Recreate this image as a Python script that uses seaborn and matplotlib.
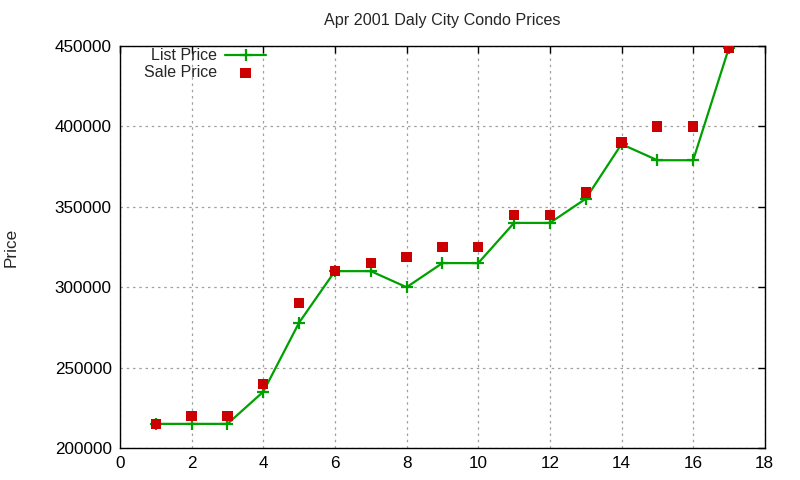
import numpy as np
import pandas as pd
import matplotlib
matplotlib.use("Agg")
import matplotlib.pyplot as plt
import seaborn as sns

# values
units = [1, 2, 3, 4, 5, 6, 7, 8, 9, 10, 11, 12, 13, 14, 15, 16, 17]
list_price = [215000, 215000, 215000, 235000, 278000, 310000, 310000, 300000,
              315000, 315000, 340000, 340000, 355000, 389000, 379000, 379000, 449000]
sale_price = [215000, 220000, 220000, 240000, 290000, 310000, 315000, 319000,
              325000, 325000, 345000, 345000, 359000, 390000, 400000, 400000, 449000]

xticks = [0, 2, 4, 6, 8, 10, 12, 14, 16, 18]
yticks = [200000, 250000, 300000, 350000, 400000, 450000]

df = pd.DataFrame({"n": units, "list": list_price, "sale": sale_price})

sns.set_style("white")
plt.rcParams['font.family'] = ['Liberation Sans', 'DejaVu Sans']

fig = plt.figure(figsize=(8, 4.8), dpi=100)
ax = fig.add_axes([0.15, 0.0667, 0.806, 0.8373])

green = "#00a000"
red = "#cc0000"

sns.lineplot(data=df, x="n", y="list", ax=ax, color=green, lw=1.6,
             marker="+", markersize=8, markeredgewidth=1.6,
             markeredgecolor=green, label="List Price", zorder=3)
sns.scatterplot(data=df, x="n", y="sale", ax=ax, color=red, marker="s",
                s=55, edgecolor="none", label="Sale Price", zorder=4)

ax.set_xlim(0, 18)
ax.set_ylim(200000, 450000)
ax.set_xticks(xticks)
ax.set_yticks(yticks)
ax.tick_params(direction="in", length=5, width=1, top=True, right=True,
               labelsize=12.3, pad=6, colors="black")
ax.grid(True, color="#a0a0a0", linestyle=(0, (2, 3)), lw=0.9)
for s in ax.spines.values():
    s.set_color("black")
    s.set_linewidth(1)

ax.set_xlabel("")
ax.set_ylabel("Price", fontsize=12.3)
ax.yaxis.set_label_coords(-0.157, 0.5)
ax.set_title("Apr 2001 Daly City Condo Prices", fontsize=11.6, pad=15)

leg = ax.legend(loc="upper left", bbox_to_anchor=(0.022, 1.018), frameon=False,
                markerfirst=False, fontsize=11.5, handlelength=2.6,
                handletextpad=0.5, labelspacing=0.1, borderaxespad=0.2)

fig.savefig("out.png", dpi=100)
